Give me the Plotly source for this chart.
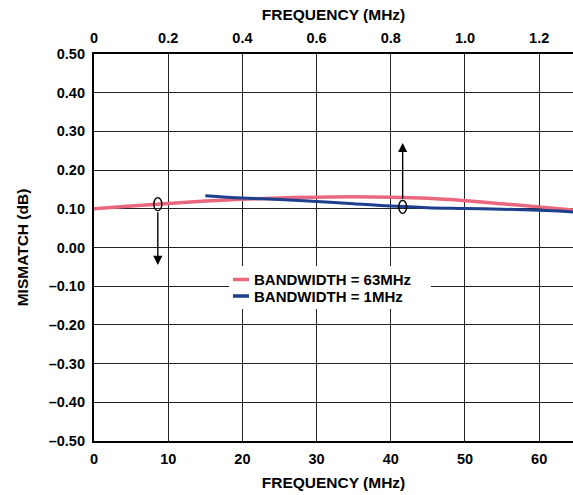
import plotly.graph_objects as go

# BANDWIDTH = 63MHz (bottom axis, MHz)
f63 = [0, 5, 10, 15, 20, 25, 30, 35, 40, 45, 50, 55, 60, 64.6]
m63 = [0.100, 0.107, 0.114, 0.120, 0.125, 0.128, 0.130, 0.131, 0.130, 0.127, 0.121, 0.113, 0.105, 0.097]

# BANDWIDTH = 1MHz (top axis, MHz)
f1 = [0.30, 0.40, 0.50, 0.60, 0.70, 0.80, 0.90, 1.00, 1.10, 1.20, 1.292]
m1 = [0.134, 0.128, 0.124, 0.119, 0.113, 0.107, 0.103, 0.101, 0.099, 0.096, 0.092]

names = ["BANDWIDTH = 63MHz", "BANDWIDTH = 1MHz"]

xb_ticks = [0, 10, 20, 30, 40, 50, 60]
xt_ticks = [0, 0.2, 0.4, 0.6, 0.8, 1.0, 1.2]
xt_text = ["0", "0.2", "0.4", "0.6", "0.8", "1.0", "1.2"]
y_ticks = [0.5, 0.4, 0.3, 0.2, 0.1, 0.0, -0.1, -0.2, -0.3, -0.4, -0.5]
y_text = ["0.50", "0.40", "0.30", "0.20", "0.10", "0.00", "–0.10", "–0.20", "–0.30", "–0.40", "–0.50"]

PINK = "#E9677F"
BLUE = "#1C3F8E"
FONT = "Liberation Sans, Arial, sans-serif"
tf = dict(family=FONT, size=14.5, color="black", weight="bold")
ttl = dict(family=FONT, size=15.5, color="black", weight="bold")
lf = dict(family=FONT, size=15, color="black", weight="bold")

fig = go.Figure()
fig.add_trace(go.Scatter(x=f63, y=m63, mode="lines", name=names[0],
                         line=dict(color=PINK, width=3.5, shape="spline"), xaxis="x", yaxis="y"))
fig.add_trace(go.Scatter(x=f1, y=m1, mode="lines", name=names[1],
                         line=dict(color=BLUE, width=3, shape="spline"), xaxis="x2", yaxis="y"))

# markers with arrows
mk1 = (8.6, 0.112)
mk2 = (41.6, 0.105)
for (cx, cy) in [mk1, mk2]:
    fig.add_shape(type="circle", xref="x", yref="y", xsizemode="pixel", ysizemode="pixel",
                  xanchor=cx, yanchor=cy, x0=-4, x1=4, y0=-6.5, y1=6.5,
                  line=dict(color="black", width=1.4), fillcolor="rgba(0,0,0,0)")
fig.add_annotation(x=mk1[0], y=-0.045, ax=mk1[0], ay=mk1[1] - 0.017, xref="x", yref="y",
                   axref="x", ayref="y", text="", showarrow=True, arrowhead=2, arrowsize=1.3,
                   arrowwidth=1.4, arrowcolor="black")
fig.add_annotation(x=mk2[0], y=0.27, ax=mk2[0], ay=mk2[1] + 0.017, xref="x", yref="y",
                   axref="x", ayref="y", text="", showarrow=True, arrowhead=2, arrowsize=1.3,
                   arrowwidth=1.4, arrowcolor="black")

# custom legend (white box over the grid)
def px(x):
    return (x - 94) / 479.0

def py(y):
    return (441 - y) / 387.0

fig.add_shape(type="rect", xref="paper", yref="paper", x0=px(229), x1=px(431), y0=py(309), y1=py(266),
              fillcolor="white", line=dict(width=0), layer="above")
for i, (col, yy) in enumerate([(PINK, 279.5), (BLUE, 296)]):
    fig.add_shape(type="line", xref="paper", yref="paper", x0=px(233), x1=px(249), y0=py(yy), y1=py(yy),
                  line=dict(color=col, width=3.5), layer="above")
    fig.add_annotation(x=px(252), y=py(yy), xref="paper", yref="paper", text=names[i], showarrow=False,
                       xanchor="left", yanchor="middle", font=lf)

grid = dict(showgrid=True, gridcolor="#222", gridwidth=1.2, zeroline=False,
            showline=True, linecolor="black", linewidth=2.2, ticks="")

fig.update_layout(
    width=573, height=495,
    margin=dict(l=94, r=0, t=54, b=54),
    paper_bgcolor="white", plot_bgcolor="white",
    showlegend=False,
    xaxis=dict(range=[0, 64.56], tickvals=xb_ticks, ticktext=[str(v) for v in xb_ticks],
               tickfont=tf, ticklabelstandoff=3,
               title=dict(text="FREQUENCY (MHz)", font=ttl, standoff=12), **grid),
    xaxis2=dict(range=[0, 64.56 / 50], tickvals=xt_ticks, ticktext=xt_text, overlaying="x",
                side="top", tickfont=tf, ticklabelstandoff=3,
                title=dict(text="FREQUENCY (MHz)", font=ttl, standoff=6),
                showgrid=False, zeroline=False, showline=True, linecolor="black", linewidth=2.2,
                ticks=""),
    yaxis=dict(range=[-0.5, 0.5], tickvals=y_ticks, ticktext=y_text, tickfont=tf,
               ticklabelstandoff=4,
               title=dict(text="MISMATCH (dB)", font=ttl, standoff=16), **grid),
)

fig.write_html("out.html")
